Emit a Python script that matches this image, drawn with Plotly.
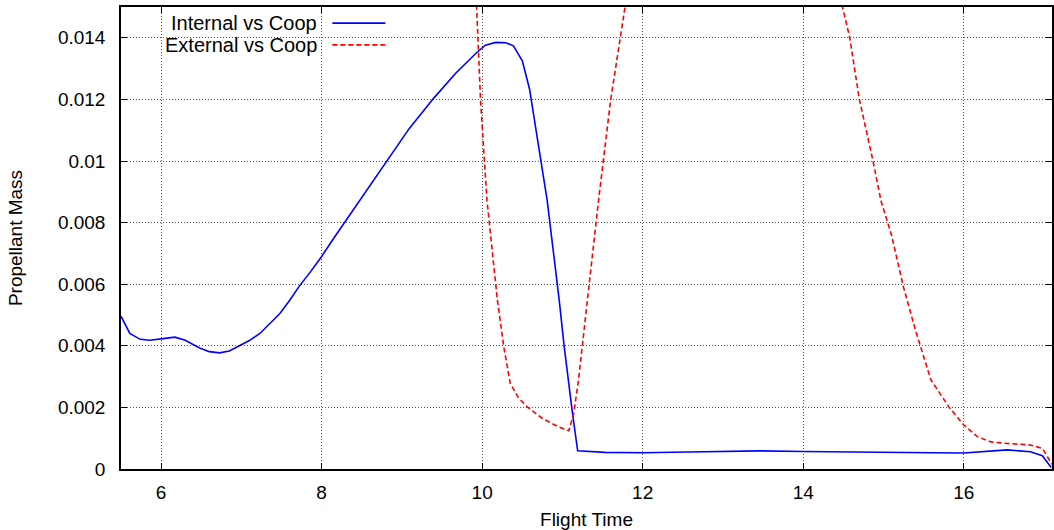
import plotly.graph_objects as go

# Internal vs Coop (blue, solid)
internal_x = [5.5, 5.61, 5.74, 5.86, 6.05, 6.17, 6.3, 6.48, 6.6, 6.73, 6.85, 6.98, 7.1, 7.23,
              7.35, 7.48, 7.6, 7.72, 7.86, 8.0, 8.14, 8.28, 8.43, 8.57, 8.8, 9.09, 9.4, 9.67,
              9.92, 10.04, 10.17, 10.29, 10.39, 10.5, 10.59, 10.68, 10.81, 10.96, 11.02, 11.12,
              11.19, 11.53, 12.0, 12.57, 13.0, 13.45, 14.0, 14.5, 15.18, 15.6, 16.0, 16.25,
              16.54, 16.83, 16.98, 17.09]
internal_y = [0.00496, 0.0044, 0.00421, 0.00418, 0.00424, 0.00428, 0.00418, 0.00393, 0.00381,
              0.00377, 0.00383, 0.004, 0.00417, 0.0044, 0.0047, 0.00505, 0.00547, 0.00593,
              0.0064, 0.0069, 0.00745, 0.00798, 0.00853, 0.00906, 0.00995, 0.01105, 0.01205,
              0.01285, 0.01349, 0.01376, 0.01385, 0.01384, 0.01374, 0.01325, 0.01234, 0.01088,
              0.00872, 0.00548, 0.00402, 0.00191, 0.00059, 0.00054, 0.00053, 0.00055, 0.00057,
              0.00059, 0.00057, 0.00055, 0.00054, 0.00053, 0.00052, 0.00056, 0.00062, 0.00056,
              0.00043, 0.00005]

# External vs Coop (red, dashed) -- values above 0.015 are clipped by the axis
external_x = [9.85, 9.93, 9.98, 10.06, 10.19, 10.27, 10.35, 10.45, 10.56, 10.75, 10.95, 11.08,
              11.14, 11.2, 11.26, 11.32, 11.45, 11.6, 11.72, 11.78, 11.9, 12.4, 13.0, 13.6,
              14.2, 14.49, 14.58, 14.7, 14.87, 14.97, 15.1, 15.25, 15.4, 15.59, 15.82, 16.0,
              16.17, 16.34, 16.54, 16.83, 16.98, 17.1]
external_y = [0.020, 0.0150, 0.01196, 0.00872, 0.00548, 0.00396, 0.00278, 0.00232, 0.00202,
              0.00164, 0.00137, 0.00124, 0.0018, 0.00288, 0.00429, 0.00548, 0.00872, 0.01196,
              0.0139, 0.0150, 0.0175, 0.025, 0.028, 0.025, 0.019, 0.0150, 0.0140, 0.0120,
              0.0100, 0.0087, 0.0076, 0.0059, 0.0045, 0.0029, 0.0020, 0.00143, 0.00105, 0.00088,
              0.00083, 0.00078, 0.00067, 0.00015]

series_names = ["Internal vs Coop", "External vs Coop"]
series_colors = ["#0000ff", "#ff0000"]
x_ticks = [6, 8, 10, 12, 14, 16]
y_ticks = [0, 0.002, 0.004, 0.006, 0.008, 0.01, 0.012, 0.014]
y_tick_labels = ["0", "0.002", "0.004", "0.006", "0.008", "0.01", "0.012", "0.014"]

FONT = "Liberation Sans, Arial, sans-serif"
FS = 19

fig = go.Figure()
fig.add_trace(go.Scatter(x=internal_x, y=internal_y, mode="lines", name=series_names[0],
                         line=dict(color=series_colors[0], width=1.6), showlegend=False))
fig.add_trace(go.Scatter(x=external_x, y=external_y, mode="lines", name=series_names[1],
                         line=dict(color=series_colors[1], width=1.6, dash="5px,3px"),
                         showlegend=False))

# gnuplot-style legend: right-aligned text, sample line to the right
legend_rows = [(0.965, "solid"), (0.918, "5px,3px")]
for name, color, (yp, dash) in zip(series_names, series_colors, legend_rows):
    fig.add_annotation(x=0.213, y=yp, xref="paper", yref="paper", text=name,
                       showarrow=False, xanchor="right", yanchor="middle",
                       font=dict(family=FONT, size=20, color="black"))
    fig.add_shape(type="line", xref="paper", yref="paper", x0=0.227, x1=0.284, y0=yp, y1=yp,
                  line=dict(color=color, width=1.6, dash=dash))

axis_common = dict(
    showline=True, linecolor="black", linewidth=1.5, mirror="ticks",
    ticks="inside", ticklen=6, tickcolor="black", tickwidth=1,
    showgrid=True, gridcolor="#555555", gridwidth=1, griddash="1px,2px",
    zeroline=False, tickfont=dict(family=FONT, size=FS, color="black"),
)

fig.update_xaxes(range=[5.5, 17.1], tickvals=x_ticks, ticktext=[str(v) for v in x_ticks],
                 title=dict(text="Flight Time", font=dict(family=FONT, size=FS, color="black"),
                            standoff=12),
                 ticklabelstandoff=5, **axis_common)
fig.update_yaxes(range=[0, 0.015], tickvals=y_ticks, ticktext=y_tick_labels,
                 title=dict(text="Propellant Mass", font=dict(family=FONT, size=FS, color="black"),
                            standoff=30),
                 ticklabelstandoff=10, **axis_common)

fig.update_layout(width=1054, height=530, margin=dict(l=121, r=0, t=7, b=61),
                  plot_bgcolor="white", paper_bgcolor="white",
                  font=dict(family=FONT, size=FS, color="black"))

fig.write_html("out.html", config={"displayModeBar": False},
               post_script="document.body.style.margin='0';document.body.style.padding='0';"
                           "document.body.style.overflow='hidden';")
